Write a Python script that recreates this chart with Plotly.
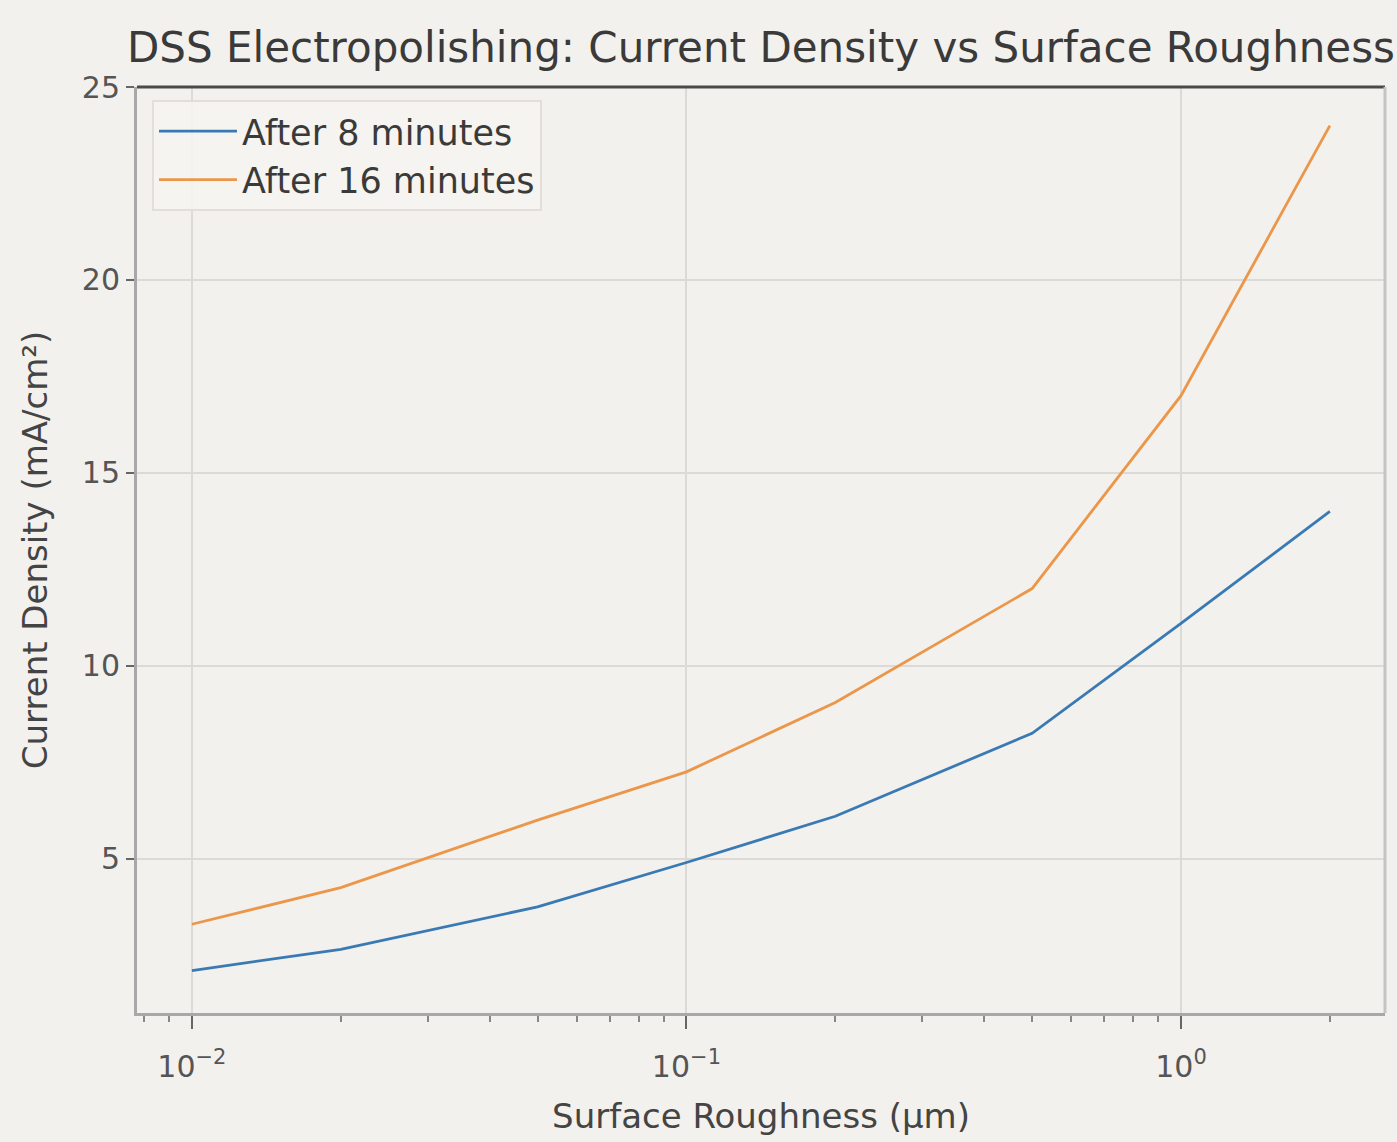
import plotly.graph_objects as go

roughness = [0.01, 0.02, 0.05, 0.1, 0.2, 0.5, 1.0, 2.0]
density_8min = [2.1, 2.65, 3.75, 4.9, 6.1, 8.25, 11.1, 14.0]
density_16min = [3.3, 4.25, 6.0, 7.25, 9.05, 12.0, 17.0, 24.0]
series_names = ["After 8 minutes", "After 16 minutes"]
x_tickvals = [0.01, 0.1, 1.0]
x_ticktext = ["10<sup>−2</sup>", "10<sup>−1</sup>", "10<sup>0</sup>"]
x_minor_tickvals = [0.008, 0.009,
                    0.02, 0.03, 0.04, 0.05, 0.06, 0.07, 0.08, 0.09,
                    0.2, 0.3, 0.4, 0.5, 0.6, 0.7, 0.8, 0.9, 2.0]
y_tickvals = [5, 10, 15, 20, 25]

BG = "#f3f1ed"
FONT = "DejaVu Sans"

fig = go.Figure()
fig.add_trace(go.Scatter(x=roughness, y=density_8min, mode="lines", name=series_names[0],
                         line=dict(color="#3a7ab4", width=2.8)))
fig.add_trace(go.Scatter(x=roughness, y=density_16min, mode="lines", name=series_names[1],
                         line=dict(color="#eb9649", width=2.8)))

fig.update_layout(
    width=1397, height=1142,
    paper_bgcolor=BG, plot_bgcolor=BG,
    font=dict(family=FONT, color="#444"),
    margin=dict(l=137, r=12, t=87, b=129),
    title=dict(text="DSS Electropolishing: Current Density vs Surface Roughness",
               xref="paper", x=0.5, xanchor="center",
               y=1 - 47 / 1142, yanchor="middle",
               font=dict(size=42, color="#3a3a3a", family=FONT)),
    showlegend=True,
    legend=dict(x=0.012, y=0.986, xanchor="left", yanchor="top",
                bgcolor="rgba(246,244,240,0.85)", bordercolor="#e2dfda", borderwidth=2,
                font=dict(size=35, color="#3a3a3a", family=FONT),
                itemwidth=78, tracegroupgap=16),
)
fig.update_xaxes(
    type="log", range=[-2.111, 0.4125],
    tickvals=x_tickvals, ticktext=x_ticktext,
    tickfont=dict(size=30, color="#555"),
    ticks="outside", ticklen=13, tickwidth=2, tickcolor="#666",
    ticklabelstandoff=12,
    showgrid=True, gridcolor="#dcdad6", gridwidth=2,
    showline=True, linecolor="#a8a8a8", linewidth=3,
    zeroline=False,
    minor=dict(tickmode="array", tickvals=x_minor_tickvals,
               ticks="outside", ticklen=6, tickwidth=2, tickcolor="#888", showgrid=False),
    title=dict(text="Surface Roughness (µm)", font=dict(size=34, color="#444"), standoff=22),
)
fig.update_yaxes(
    range=[1.0, 25.0],
    tickvals=y_tickvals,
    tickfont=dict(size=30, color="#555"),
    ticks="outside", ticklen=8, tickwidth=2, tickcolor="#666",
    showgrid=True, gridcolor="#dcdad6", gridwidth=2,
    showline=True, linecolor="#a8a8a8", linewidth=3,
    zeroline=False,
    title=dict(text="Current Density (mA/cm²)", font=dict(size=34, color="#444"), standoff=24),
)
# top and right spines
fig.add_shape(type="line", xref="paper", yref="paper", x0=0, x1=1, y0=1, y1=1,
              line=dict(color="#4a4a4a", width=3))
fig.add_shape(type="line", xref="paper", yref="paper", x0=1, x1=1, y0=0, y1=1,
              line=dict(color="#c4c4c4", width=3))

fig.write_html(
    "out.html",
    config={"displayModeBar": False},
    post_script="document.body.style.margin='0';document.body.style.overflow='hidden';"
                "document.body.style.background='#f3f1ed';",
)
